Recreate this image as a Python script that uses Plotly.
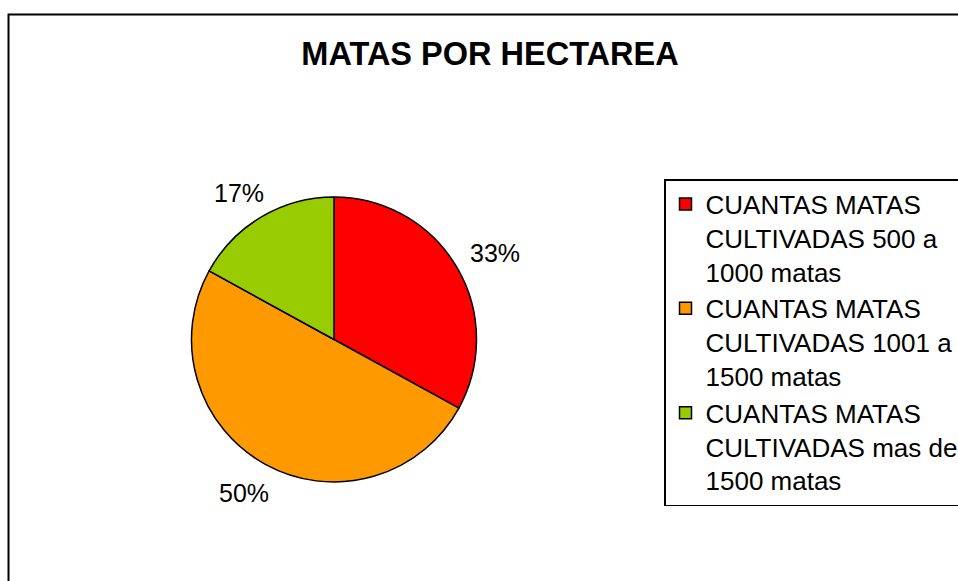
import math
import plotly.graph_objects as go

labels = [
    "CUANTAS MATAS<br>CULTIVADAS 500 a<br>1000 matas",
    "CUANTAS MATAS<br>CULTIVADAS 1001 a<br>1500 matas",
    "CUANTAS MATAS<br>CULTIVADAS mas de<br>1500 matas",
]
values = [33, 50, 17]
colors = ["#FF0000", "#FF9900", "#99CC00"]

W, H = 958, 581
cx, cy, r = 334, 339.5, 142.5

dom_x = [(cx - r) / W, (cx + r) / W]
dom_y = [(H - cy - r) / H, (H - cy + r) / H]

fig = go.Figure(go.Pie(
    labels=labels,
    values=values,
    sort=False,
    direction="clockwise",
    rotation=0,
    marker=dict(colors=colors, line=dict(color="black", width=1.5)),
    textinfo="none",
    domain=dict(x=dom_x, y=dom_y),
    showlegend=True,
))

# percentage labels placed outside, computed from the slice values
total = sum(values)
annotations = []
cum = 0
half_w, half_h, lr = 26, 12, 161
for v in values:
    mid = (cum + v / 2) / total * 2 * math.pi
    cum += v
    s, c = math.sin(mid), math.cos(mid)
    px = cx + lr * s + half_w * s
    py = cy - lr * c - half_h * c + 2
    annotations.append(dict(
        x=px / W, y=1 - py / H, xref="paper", yref="paper",
        text=f"{round(v / total * 100)}%", showarrow=False,
        xanchor="center", yanchor="middle",
        font=dict(size=25, family="Liberation Sans, Arial", color="black"),
    ))

fig.update_layout(
    width=W, height=H,
    margin=dict(l=0, r=0, t=0, b=0, autoexpand=False),
    paper_bgcolor="white", plot_bgcolor="white",
    font=dict(family="Liberation Sans, Arial", color="black"),
    title=dict(text="<b>MATAS POR HECTAREA</b>", x=490 / W, xanchor="center",
               y=1 - 54 / H, yanchor="middle", yref="container",
               font=dict(size=32.5, family="Liberation Sans, Arial", color="black")),
    legend=dict(x=664 / W, xanchor="left", y=1 - 179 / H, yanchor="top",
                bordercolor="black", borderwidth=1.5, bgcolor="white",
                font=dict(size=26, family="Liberation Sans, Arial", color="black"),
                valign="top", traceorder="normal"),
    annotations=annotations,
    shapes=[dict(type="rect", xref="paper", yref="paper",
                 x0=8.5 / W, x1=1.05, y0=-0.05, y1=1 - 14.5 / H,
                 line=dict(color="black", width=2))],
)

fig.write_html("out.html",
               config={"displayModeBar": False},
               post_script="document.body.style.margin='0';document.body.style.overflow='hidden';")
